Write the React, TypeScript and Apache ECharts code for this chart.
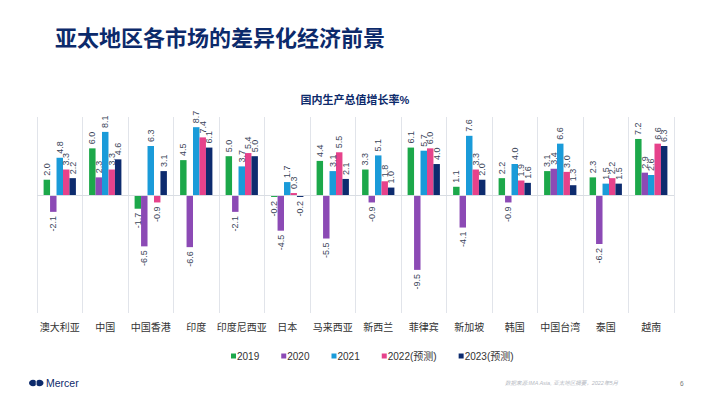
import React, { useEffect, useRef } from "react";
import * as echarts from "echarts";

const categories = ["澳大利亚", "中国", "中国香港", "印度", "印度尼西亚", "日本", "马来西亚", "新西兰", "菲律宾", "新加坡", "韩国", "中国台湾", "泰国", "越南"];
const seriesNames = ["2019", "2020", "2021", "2022(预测)", "2023(预测)"];
const s2019 = [2.0, 6.0, -1.7, 4.5, 5.0, -0.2, 4.4, 3.3, 6.1, 1.1, 2.2, 3.1, 2.3, 7.2];
const s2020 = [-2.1, 2.3, -6.5, -6.6, -2.1, -4.5, -5.5, -0.9, -9.5, -4.1, -0.9, 3.4, -6.2, 2.9];
const s2021 = [4.8, 8.1, 6.3, 8.7, 3.7, 1.7, 3.1, 5.1, 5.7, 7.6, 4.0, 6.6, 1.5, 2.6];
const s2022 = [3.3, 3.3, -0.9, 7.4, 5.4, 0.3, 5.5, 1.8, 6.0, 3.3, 1.9, 3.0, 2.2, 6.6];
const s2023 = [2.2, 4.6, 3.1, 6.1, 5.0, -0.2, 2.1, 1.0, 4.0, 2.0, 1.6, 1.3, 1.5, 6.3];
const colors = ["#1CA84A", "#8C4AB5", "#1A9BD9", "#E6428B", "#0D2B6E"];

const FONT = '"Liberation Sans", Arial, "Noto Sans CJK SC", sans-serif';

export default function App() {
  const ref = useRef<HTMLDivElement>(null);
  useEffect(() => {
    const chart = echarts.init(ref.current!, null, { renderer: "svg" });
    const all = [s2019, s2020, s2021, s2022, s2023];
    const series: any[] = all.map((vals, i) => ({
      name: seriesNames[i],
      type: "bar",
      barGap: "0%",
      barCategoryGap: "29%",
      itemStyle: { color: colors[i] },
      data: vals.map((v) => ({
        value: v,
        label: {
          show: true,
          position: v < 0 ? "bottom" : "top",
          rotate: 90,
          align: v < 0 ? "right" : "left",
          verticalAlign: "middle",
          distance: 4,
          formatter: (p: any) => Number(p.value).toFixed(1),
          color: "#3A4559",
          fontSize: 9,
          fontFamily: FONT,
        },
      })),
    }));
    series[0].markLine = {
      silent: true,
      symbol: "none",
      label: { show: false },
      lineStyle: { color: "#D9DDE3", type: "solid", width: 1 },
      data: [{ yAxis: 0 }],
    };
    chart.setOption({
      animation: false,
      textStyle: { fontFamily: FONT },
      title: [
        {
          text: "亚太地区各市场的差异化经济前景",
          left: 50,
          top: 22,
          textStyle: { color: "#0C2A6B", fontSize: 22, fontWeight: "bold", fontFamily: FONT },
        },
        {
          text: "国内生产总值增长率%",
          left: "center",
          top: 89,
          textStyle: { color: "#0C2A6B", fontSize: 11, fontWeight: "bold", fontFamily: FONT },
        },
      ],
      legend: {
        data: seriesNames,
        left: 226,
        top: 346,
        icon: "rect",
        itemWidth: 5,
        itemHeight: 5,
        itemGap: 22,
        textStyle: { color: "#333", fontSize: 10, fontFamily: FONT, padding: [0, 0, 0, -4] },
      },
      grid: { left: 37, right: 36, top: 117, bottom: 86 },
      xAxis: {
        type: "category",
        data: categories,
        axisLine: { show: false, onZero: false },
        axisTick: { show: false },
        splitLine: { show: true, lineStyle: { color: "#E1E4EA", width: 1 } },
        axisLabel: { color: "#333", fontSize: 10, margin: 9, fontFamily: FONT, interval: 0 },
      },
      yAxis: {
        type: "value",
        min: -15,
        max: 10,
        show: false,
        splitLine: { show: false },
      },
      graphic: [
        { type: "ellipse", shape: { cx: 33, cy: 383, rx: 4, ry: 3.3 }, style: { fill: "#0C2A6B" } },
        { type: "ellipse", shape: { cx: 39.5, cy: 383, rx: 4, ry: 3.3 }, style: { fill: "#0C2A6B" } },
        { type: "line", shape: { x1: 36.2, y1: 380, x2: 36.2, y2: 386 }, style: { stroke: "#fff", lineWidth: 0.8 } },
        {
          type: "text",
          x: 46,
          y: 383,
          style: { text: "Mercer", fill: "#0C2A6B", fontSize: 10.5, fontFamily: FONT, verticalAlign: "middle" },
        },
        {
          type: "text",
          x: 505,
          y: 383,
          style: {
            text: "数据来源:IMA Asia, 亚太地区摘要，2022年5月",
            fill: "#B5B9C2",
            fontSize: 5.5,
            fontStyle: "italic",
            fontFamily: FONT,
            verticalAlign: "middle",
          },
        },
        {
          type: "text",
          x: 680,
          y: 383,
          style: { text: "6", fill: "#777", fontSize: 6.5, fontFamily: FONT, verticalAlign: "middle" },
        },
      ],
      series,
    });
    return () => chart.dispose();
  }, []);
  return <div ref={ref} style={{ width: 710, height: 399, position: "absolute", left: 0, top: 0, background: "#fff" }} />;
}
